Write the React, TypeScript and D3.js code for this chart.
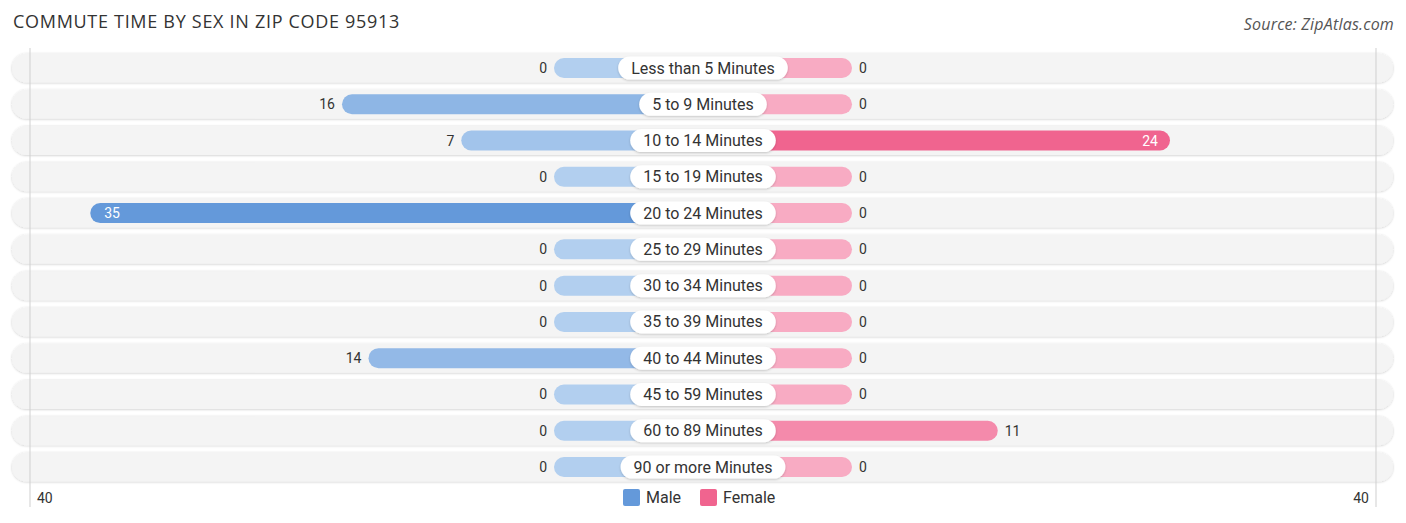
import * as d3 from "d3";

const categories = [
  "Less than 5 Minutes",
  "5 to 9 Minutes",
  "10 to 14 Minutes",
  "15 to 19 Minutes",
  "20 to 24 Minutes",
  "25 to 29 Minutes",
  "30 to 34 Minutes",
  "35 to 39 Minutes",
  "40 to 44 Minutes",
  "45 to 59 Minutes",
  "60 to 89 Minutes",
  "90 or more Minutes",
];
const maleValues = [0, 16, 7, 0, 35, 0, 0, 0, 14, 0, 0, 0];
const femaleValues = [0, 0, 24, 0, 0, 0, 0, 0, 0, 0, 11, 0];
const axisMax = 40;
const axisTickLabels = ["40", "40"];

const W = 1406;
const H = 523;
const cx = 703;
const gridHalf = 673; // half-width between the two outer axis lines

const font = "Roboto, 'Open Sans', sans-serif";
const labelFontSize = 16;

// measure label widths so the white pills hug the text
const measureCtx = typeof document !== "undefined" ? document.createElement("canvas").getContext("2d") : null;
function textWidth(s: string) {
  if (!measureCtx) return s.length * 8;
  measureCtx.font = `${labelFontSize}px Roboto`;
  return measureCtx.measureText(s).width;
}

export default function App() {
  // bar length from the centre: zero bars keep a minimum length behind the label
  const len = d3.scaleLinear().domain([0, axisMax]).range([149, 679]);
  const y = d3.scalePoint<string>().domain(categories).range([68, 467]);

  const maleMax = d3.max(maleValues) || 1;
  const femaleMax = d3.max(femaleValues) || 1;
  const maleColor = d3.scaleLinear<string>().domain([0, maleMax]).range(["#b2cfef", "#6499da"]).interpolate(d3.interpolateRgb);
  const femaleColor = d3.scaleLinear<string>().domain([0, femaleMax]).range(["#f8abc3", "#f0648f"]).interpolate(d3.interpolateRgb);

  return (
    <svg width={W} height={H} style={{ position: "absolute", left: 0, top: 0, background: "#fff" }}>
      <defs>
        <filter id="rowShadow" x="-2%" y="-30%" width="104%" height="160%">
          <feDropShadow dx="0" dy="0.5" stdDeviation="1" floodColor="#000" floodOpacity="0.22" />
        </filter>
        <filter id="pillShadow" x="-10%" y="-30%" width="120%" height="160%">
          <feDropShadow dx="0" dy="1" stdDeviation="1.2" floodColor="#000" floodOpacity="0.2" />
        </filter>
      </defs>

      <text x={13} y={28} fontFamily="'Open Sans', sans-serif" fontSize={18} letterSpacing={0.7} fill="#333">
        COMMUTE TIME BY SEX IN ZIP CODE 95913
      </text>
      <text x={1394} y={30} textAnchor="end" fontFamily="'Open Sans', sans-serif" fontStyle="italic" fontSize={16} letterSpacing={0.2} fill="#555">
        Source: ZipAtlas.com
      </text>

      {/* row backgrounds */}
      {categories.map((c) => (
        <rect
          key={"bg" + c}
          x={12}
          y={(y(c) || 0) - 14.5}
          width={1381}
          height={29}
          rx={14.5}
          fill="#f4f4f4"
          filter="url(#rowShadow)"
        />
      ))}

      {/* vertical axis lines */}
      <line x1={cx - gridHalf} x2={cx - gridHalf} y1={48} y2={507} stroke="#cfcfcf" strokeWidth={1} />
      <line x1={cx + gridHalf} x2={cx + gridHalf} y1={48} y2={507} stroke="#cfcfcf" strokeWidth={1} />

      {categories.map((c, i) => {
        const yc = y(c) || 0;
        const m = maleValues[i];
        const f = femaleValues[i];
        const mLen = len(m);
        const fLen = len(f);
        const mInside = m >= 20;
        const fInside = f >= 20;
        return (
          <g key={c}>
            <rect x={cx - mLen} y={yc - 10} width={mLen} height={20} rx={10} fill={maleColor(m)} />
            <rect x={cx} y={yc - 10} width={fLen} height={20} rx={10} fill={femaleColor(f)} />
            <text
              x={mInside ? cx - mLen + 14 : cx - mLen - 7}
              y={yc + 5}
              textAnchor={mInside ? "start" : "end"}
              fontFamily={font}
              fontSize={14}
              fill={mInside ? "#fff" : "#333"}
            >
              {m}
            </text>
            <text
              x={fInside ? cx + fLen - 12 : cx + fLen + 7}
              y={yc + 5}
              textAnchor={fInside ? "end" : "start"}
              fontFamily={font}
              fontSize={14}
              fill={fInside ? "#fff" : "#333"}
            >
              {f}
            </text>
          </g>
        );
      })}

      {/* category pills */}
      {categories.map((c) => {
        const yc = y(c) || 0;
        const w = textWidth(c) + 26;
        return (
          <g key={"lbl" + c}>
            <rect x={cx - w / 2} y={yc - 11.5} width={w} height={23} rx={11.5} fill="#fff" filter="url(#pillShadow)" />
            <text x={cx} y={yc + 5.5} textAnchor="middle" fontFamily={font} fontSize={labelFontSize} fill="#333">
              {c}
            </text>
          </g>
        );
      })}

      {/* axis labels */}
      <text x={cx - gridHalf + 7} y={503} fontFamily={font} fontSize={14} fill="#333">
        {axisTickLabels[0]}
      </text>
      <text x={cx + gridHalf - 7} y={503} textAnchor="end" fontFamily={font} fontSize={14} fill="#333">
        {axisTickLabels[1]}
      </text>

      {/* legend */}
      <rect x={623} y={489} width={17} height={17} rx={2} fill="#6499da" />
      <text x={646} y={503} fontFamily={font} fontSize={16} fill="#333">Male</text>
      <rect x={700} y={489} width={17} height={17} rx={2} fill="#f0648f" />
      <text x={723} y={503} fontFamily={font} fontSize={16} fill="#333">Female</text>
    </svg>
  );
}
